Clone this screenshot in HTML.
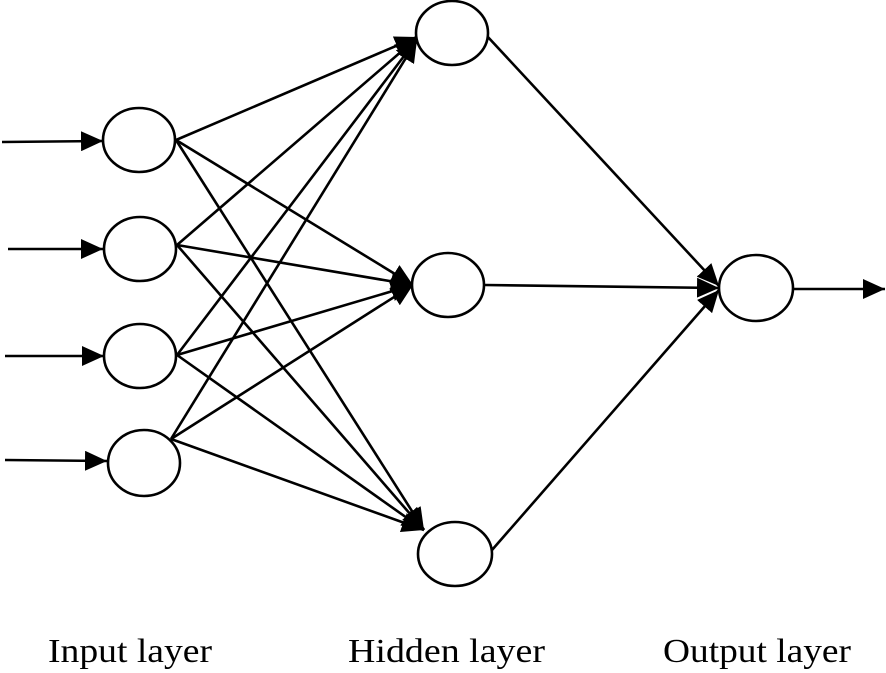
<!DOCTYPE html>
<html><head><meta charset="utf-8"><style>body{margin:0;background:#fff}svg{display:block}</style></head><body>
<svg width="886" height="673" viewBox="0 0 886 673" xmlns="http://www.w3.org/2000/svg">
<defs><marker id="a" viewBox="0 0 22 20" refX="22" refY="10" markerWidth="22" markerHeight="20" markerUnits="userSpaceOnUse" orient="auto"><path d="M0,0 L22,10 L0,20 z" fill="#000"/></marker></defs>
<g stroke="#000" stroke-width="2.6" fill="none" marker-end="url(#a)">
<line x1="2" y1="142" x2="103" y2="141"/>
<line x1="8" y1="249" x2="103" y2="249"/>
<line x1="5" y1="356" x2="104" y2="356"/>
<line x1="5" y1="460" x2="107" y2="461"/>
<line x1="176" y1="140" x2="417" y2="37"/>
<line x1="177" y1="245" x2="417" y2="38"/>
<line x1="177" y1="355" x2="417" y2="39"/>
<line x1="171" y1="439" x2="417" y2="40"/>
<line x1="176" y1="140" x2="413" y2="285"/>
<line x1="177" y1="245" x2="413" y2="285"/>
<line x1="177" y1="355" x2="413" y2="285"/>
<line x1="171" y1="439" x2="413" y2="285"/>
<line x1="176" y1="140" x2="424" y2="530"/>
<line x1="177" y1="245" x2="424" y2="530"/>
<line x1="177" y1="355" x2="424" y2="530"/>
<line x1="171" y1="439" x2="424" y2="530"/>
<line x1="487" y1="36" x2="719" y2="286"/>
<line x1="485" y1="285" x2="719" y2="288"/>
<line x1="492" y1="550" x2="719" y2="290"/>
<line x1="793" y1="289" x2="885" y2="289"/>
</g>
<g stroke="#000" stroke-width="2.6" fill="#fff">
<ellipse cx="139" cy="140" rx="36" ry="32"/>
<ellipse cx="140" cy="249" rx="36" ry="32"/>
<ellipse cx="140" cy="356" rx="36" ry="32"/>
<ellipse cx="144" cy="463" rx="36" ry="33"/>
<ellipse cx="452" cy="33" rx="36" ry="32"/>
<ellipse cx="448" cy="285" rx="36" ry="32"/>
<ellipse cx="455" cy="554" rx="37" ry="32"/>
<ellipse cx="756" cy="288" rx="37" ry="33"/>
</g>
<g font-family="Liberation Serif, serif" font-size="34" fill="#000">
<text x="48" y="662" textLength="164" lengthAdjust="spacingAndGlyphs">Input layer</text>
<text x="348" y="662" textLength="197" lengthAdjust="spacingAndGlyphs">Hidden layer</text>
<text x="663" y="662" textLength="188" lengthAdjust="spacingAndGlyphs">Output layer</text>
</g>
</svg>
</body></html>
